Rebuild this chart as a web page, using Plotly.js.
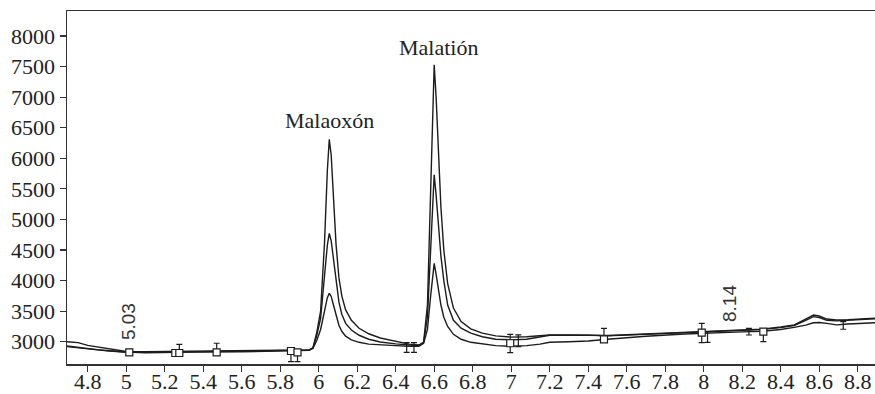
<!DOCTYPE html>
<html>
<head>
<meta charset="utf-8">
<script src="https://cdn.plot.ly/plotly-3.0.1.min.js"></script>
<style>html,body{margin:0;padding:0;background:#fff;}#chart{width:875px;height:394px;}</style>
</head>
<body>
<div id="chart"></div>
<script>
// Retention time (min)
const time = [4.69,4.75,4.8,4.85,4.9,4.95,5.0,5.1,5.2,5.3,5.4,5.5,5.6,5.7,5.8,5.9,5.95,5.97,5.99,6.01,6.03,6.045,6.055,6.065,6.075,6.09,6.105,6.12,6.14,6.17,6.21,6.26,6.32,6.4,6.47,6.52,6.545,6.565,6.58,6.59,6.6,6.61,6.62,6.635,6.65,6.67,6.7,6.74,6.79,6.85,6.92,7.0,7.08,7.15,7.2,7.3,7.4,7.5,7.7,7.9,8.0,8.1,8.2,8.3,8.4,8.47,8.53,8.57,8.6,8.64,8.69,8.75,8.89];
// Signal, highest concentration
const signalHigh = [3000,2985,2940,2915,2900,2875,2840,2838,2840,2845,2848,2845,2850,2852,2850,2855,2865,2900,3150,3500,4600,5800,6310,6050,5500,4600,4050,3750,3520,3350,3220,3130,3060,3000,2960,2945,2990,3600,5300,6700,7530,7000,6200,5200,4500,3950,3550,3330,3210,3140,3095,3075,3080,3100,3110,3110,3110,3100,3125,3150,3165,3180,3195,3205,3240,3275,3370,3435,3420,3370,3355,3360,3385];
// Signal, middle concentration
const signalMid = [2920,2900,2875,2865,2850,2840,2825,2825,2830,2828,2835,2840,2835,2840,2845,2848,2860,2895,3100,3380,4050,4580,4770,4650,4400,4000,3650,3450,3300,3190,3105,3040,2995,2965,2945,2935,2985,3400,4400,5200,5730,5400,5000,4400,4000,3600,3350,3220,3140,3080,3040,3030,3040,3080,3105,3105,3108,3095,3120,3145,3160,3175,3190,3200,3230,3265,3350,3410,3395,3350,3340,3350,3375];
// Signal, lowest concentration
const signalLow = [2930,2905,2885,2870,2855,2840,2830,2820,2825,2830,2830,2835,2838,2840,2845,2850,2862,2890,3020,3200,3500,3720,3790,3740,3620,3430,3270,3170,3090,3030,2990,2960,2945,2935,2925,2925,2975,3200,3700,4000,4280,4100,3900,3600,3400,3250,3120,3040,2990,2960,2935,2925,2935,2960,2990,3000,3010,3040,3090,3125,3140,3150,3160,3170,3200,3235,3270,3310,3315,3300,3275,3290,3310];

// Integration markers (squares) with their limit bars
const markTime = [5.016,5.255,5.276,5.47,5.856,5.89,6.995,7.482,7.99,8.31];
const markValue = [2826,2815,2815,2826,2848,2826,2974,3039,3147,3164];
const markErrUp = [0,0,142,148,0,0,147,180,153,0];
const markErrDown = [0,0,0,0,175,153,154,0,163,164];

// Stand-alone limit bars
const barTime = [6.457,6.495,7.037,8.02,8.235,8.725];
const barCenter = [2905,2905,3014,3077,3164,3265];
const barHalf = [79,79,96,87,55,62];

// Text labels
const peakNames = ["Malaoxón","Malatión"];
const peakTime = [6.055,6.62];
const peakLabelValue = [6610,7804];
const rtLabels = ["5.03","8.14"];
const rtTime = [5.01,8.137];
const rtValue = [3322,3617];

const SERIF = 'Liberation Serif';
const SANS = 'Liberation Sans';
const lineStyle = {color:'#1c1c1c', width:1.4};
const traces = [
  {x:time, y:signalHigh, mode:'lines', line:lineStyle},
  {x:time, y:signalMid, mode:'lines', line:lineStyle},
  {x:time, y:signalLow, mode:'lines', line:lineStyle},
  {x:barTime, y:barCenter, mode:'markers', marker:{size:1, color:'rgba(0,0,0,0)'},
   error_y:{type:'data', array:barHalf, visible:true, color:'#1c1c1c', thickness:1.2, width:3}},
  {x:markTime, y:markValue, mode:'markers',
   marker:{symbol:'square', size:7, color:'#ffffff', line:{color:'#1c1c1c', width:1.2}},
   error_y:{type:'data', symmetric:false, array:markErrUp, arrayminus:markErrDown, visible:true, color:'#1c1c1c', thickness:1.2, width:3}}
];

const annotations = [];
peakNames.forEach((n,i)=>annotations.push({x:peakTime[i], y:peakLabelValue[i], text:n, showarrow:false,
  font:{family:SERIF, size:22, color:'#222'}}));
rtLabels.forEach((n,i)=>annotations.push({x:rtTime[i], y:rtValue[i], text:n, showarrow:false, textangle:-90,
  font:{family:SANS, size:19, color:'#333'}}));

const layout = {
  width:875, height:394,
  margin:{l:67, r:0, t:11, b:30, pad:0},
  paper_bgcolor:'#fff', plot_bgcolor:'#fff',
  showlegend:false, hovermode:false,
  font:{family:SERIF},
  xaxis:{range:[4.6925,8.89], showgrid:false, zeroline:false, showline:true, mirror:true,
    linecolor:'#333', linewidth:1.5, ticks:'outside', ticklen:6, tickwidth:1.2, tickcolor:'#333',
    tick0:4.8, dtick:0.2, ticklabelstandoff:-9, tickfont:{family:SERIF, size:22, color:'#222'}},
  yaxis:{range:[2635,8409], showgrid:false, zeroline:false, showline:true,
    linecolor:'#333', linewidth:1.5, ticks:'outside', ticklen:6, tickwidth:1.2, tickcolor:'#333',
    tick0:3000, dtick:500, tickfont:{family:SERIF, size:22, color:'#222'}},
  annotations:annotations
};
Plotly.newPlot('chart', traces, layout, {staticPlot:true, displayModeBar:false});
</script>
</body>
</html>
